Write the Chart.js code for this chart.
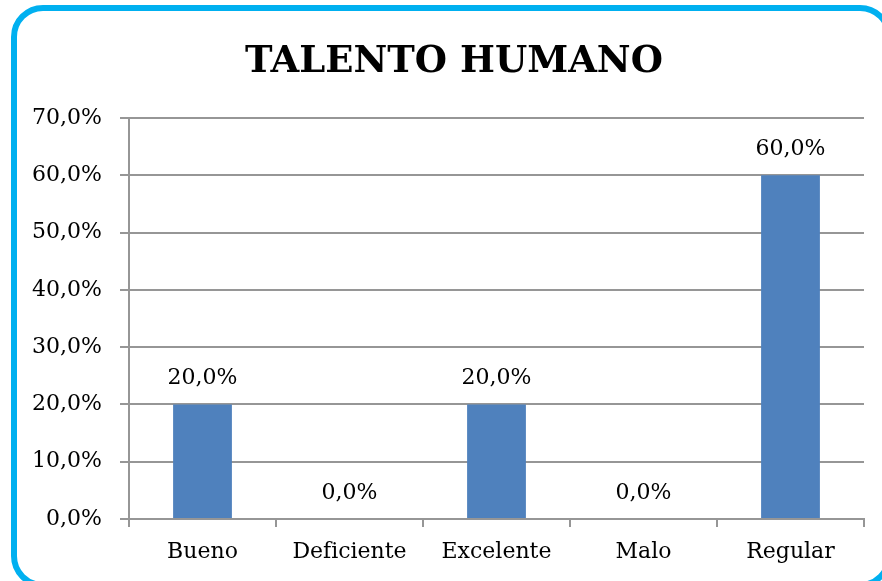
<!DOCTYPE html>
<html lang="es">
<head>
<meta charset="UTF-8">
<title>Talento Humano</title>
<style>
  html, body {
    margin: 0;
    padding: 0;
    background: #fff;
    overflow: hidden;
  }
  #wrap {
    position: relative;
    width: 882px;
    height: 581px;
    overflow: hidden;
  }
  #frame {
    position: absolute;
    left: 11px;
    top: 5px;
    width: 869px;
    height: 571px;
    border: 6px solid #00b0f0;
    border-radius: 32px;
  }
  #chart {
    position: absolute;
    left: 0;
    top: 0;
  }
</style>
<script src="https://cdn.jsdelivr.net/npm/chart.js"></script>
</head>
<body>
<div id="wrap">
  <div id="frame"></div>
  <canvas id="chart" width="882" height="581"></canvas>
</div>

<script>
// chart data
const chartTitle = 'TALENTO HUMANO';
const categories = ['Bueno', 'Deficiente', 'Excelente', 'Malo', 'Regular'];
const percentages = [20, 0, 20, 0, 60];
const yMin = 0;
const yMax = 70;
const yStep = 10;

const fmt = v => v.toFixed(1).replace('.', ',') + '%';
const serif = 'DejaVu Serif, Liberation Serif, serif';
const lineGrey = '#969696';

// title centred on the frame rather than on the canvas
const frameTitle = {
  id: 'frameTitle',
  afterDraw(chart) {
    const ctx = chart.ctx;
    ctx.save();
    ctx.font = 'bold 37px ' + serif;
    ctx.fillStyle = '#000';
    ctx.textAlign = 'center';
    ctx.textBaseline = 'alphabetic';
    ctx.fillText(chartTitle, 454, 72);
    ctx.restore();
  }
};

// draws the value above each bar
const barLabels = {
  id: 'barLabels',
  afterDatasetsDraw(chart) {
    const ctx = chart.ctx;
    const meta = chart.getDatasetMeta(0);
    ctx.save();
    ctx.font = '22px ' + serif;
    ctx.fillStyle = '#000';
    ctx.textAlign = 'center';
    ctx.textBaseline = 'middle';
    meta.data.forEach((bar, i) => {
      ctx.fillText(fmt(percentages[i]), bar.x, bar.y - 26);
    });
    ctx.restore();
  }
};

const ctx = document.getElementById('chart').getContext('2d');
new Chart(ctx, {
  type: 'bar',
  data: {
    labels: categories,
    datasets: [{
      data: percentages,
      backgroundColor: '#4f81bd',
      categoryPercentage: 1,
      barPercentage: 0.4
    }]
  },
  options: {
    responsive: false,
    animation: false,
    layout: { padding: { left: 0, right: 18, top: 118, bottom: 0 } },
    plugins: {
      legend: { display: false },
      tooltip: { enabled: false },
      title: { display: false }
    },
    scales: {
      x: {
        grid: {
          offset: true,
          drawOnChartArea: false,
          color: lineGrey,
          lineWidth: 2,
          tickLength: 8
        },
        border: { color: lineGrey, width: 2 },
        ticks: {
          color: '#000',
          padding: 12,
          font: { family: serif, size: 22 }
        },
        afterFit: s => { s.height = 62; }
      },
      y: {
        min: yMin,
        max: yMax,
        grid: { color: lineGrey, lineWidth: 2, tickLength: 9 },
        border: { color: lineGrey, width: 2 },
        ticks: {
          stepSize: yStep,
          color: '#000',
          padding: 18,
          font: { family: serif, size: 22 },
          callback: v => fmt(v)
        },
        afterFit: s => { s.width = 129; }
      }
    }
  },
  plugins: [barLabels, frameTitle]
});
</script>
</body>
</html>
